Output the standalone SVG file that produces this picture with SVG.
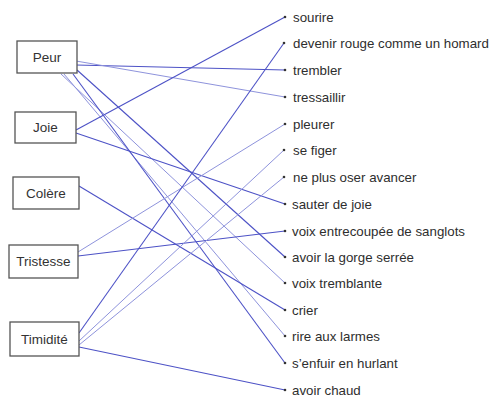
<svg xmlns="http://www.w3.org/2000/svg" width="493" height="396" viewBox="0 0 493 396">
<style>
.box rect{fill:#fff;stroke:#555;stroke-width:1.3}
.box text{font-family:"Liberation Sans",Arial,sans-serif;font-size:13.5px;fill:#333;text-anchor:middle}
.item text{font-family:"Liberation Sans",Arial,sans-serif;font-size:13.3px;fill:#2e2e2e}
.item circle{fill:#333}
.d{stroke:#4d52c6;stroke-width:1.1;fill:none}
.l{stroke:#8e93dc;stroke-width:1;fill:none}
</style>
<rect width="493" height="396" fill="#fff"/>
<g id="connectors">
<line class="d" x1="76" y1="65" x2="285" y2="70"/>
<line class="l" x1="76" y1="61" x2="285" y2="97"/>
<line class="d" x1="77" y1="70" x2="285" y2="257"/>
<line class="l" x1="61" y1="74" x2="285" y2="283"/>
<line class="l" x1="64" y1="74" x2="285" y2="336"/>
<line class="d" x1="73" y1="74" x2="285" y2="363"/>
<line class="d" x1="76" y1="130" x2="285" y2="17"/>
<line class="d" x1="76" y1="133" x2="285" y2="204"/>
<line class="d" x1="79" y1="186" x2="285" y2="310"/>
<line class="l" x1="78" y1="252" x2="285" y2="124"/>
<line class="d" x1="78" y1="256" x2="285" y2="231"/>
<line class="d" x1="79" y1="333" x2="284" y2="43"/>
<line class="l" x1="79" y1="341" x2="284" y2="150"/>
<line class="l" x1="79" y1="345" x2="284" y2="177"/>
<line class="d" x1="79" y1="347" x2="285" y2="390"/>
</g>
<g id="peur" class="box"><rect x="17" y="41" width="60" height="32"/><text x="47" y="62">Peur</text></g>
<g id="joie" class="box"><rect x="15" y="112" width="61" height="31"/><text x="45.5" y="132">Joie</text></g>
<g id="colere" class="box"><rect x="13" y="177" width="66" height="32"/><text x="46" y="198">Colère</text></g>
<g id="tristesse" class="box"><rect x="9" y="245" width="69" height="33"/><text x="43.5" y="266">Tristesse</text></g>
<g id="timidite" class="box"><rect x="10" y="322" width="69" height="34"/><text x="44.5" y="344">Timidité</text></g>
<g id="sourire" class="item"><circle cx="285" cy="17" r="1.3"/><text x="293" y="21.5">sourire</text></g>
<g id="devenir-rouge" class="item"><circle cx="284" cy="43" r="1.3"/><text x="293" y="48">devenir rouge comme un homard</text></g>
<g id="trembler" class="item"><circle cx="285" cy="70" r="1.3"/><text x="293" y="74.5">trembler</text></g>
<g id="tressaillir" class="item"><circle cx="285" cy="97" r="1.3"/><text x="293" y="101.5">tressaillir</text></g>
<g id="pleurer" class="item"><circle cx="285" cy="124" r="1.3"/><text x="293" y="128.5">pleurer</text></g>
<g id="se-figer" class="item"><circle cx="284" cy="150" r="1.3"/><text x="293" y="154.5">se figer</text></g>
<g id="ne-plus-oser" class="item"><circle cx="284" cy="177" r="1.3"/><text x="293" y="181.5">ne plus oser avancer</text></g>
<g id="sauter" class="item"><circle cx="285" cy="204" r="1.3"/><text x="292" y="208.5">sauter de joie</text></g>
<g id="voix-entrecoupee" class="item"><circle cx="285" cy="231" r="1.3"/><text x="292" y="235.5">voix entrecoupée de sanglots</text></g>
<g id="gorge" class="item"><circle cx="285" cy="257" r="1.3"/><text x="292" y="261.5">avoir la gorge serrée</text></g>
<g id="voix-tremblante" class="item"><circle cx="285" cy="283" r="1.3"/><text x="292" y="287.5">voix tremblante</text></g>
<g id="crier" class="item"><circle cx="285" cy="310" r="1.3"/><text x="292" y="314.5">crier</text></g>
<g id="rire" class="item"><circle cx="285" cy="336" r="1.3"/><text x="292" y="340.5">rire aux larmes</text></g>
<g id="senfuir" class="item"><circle cx="285" cy="363" r="1.3"/><text x="292" y="367.5">s’enfuir en hurlant</text></g>
<g id="avoir-chaud" class="item"><circle cx="285" cy="390" r="1.3"/><text x="292" y="394.5">avoir chaud</text></g>
</svg>
